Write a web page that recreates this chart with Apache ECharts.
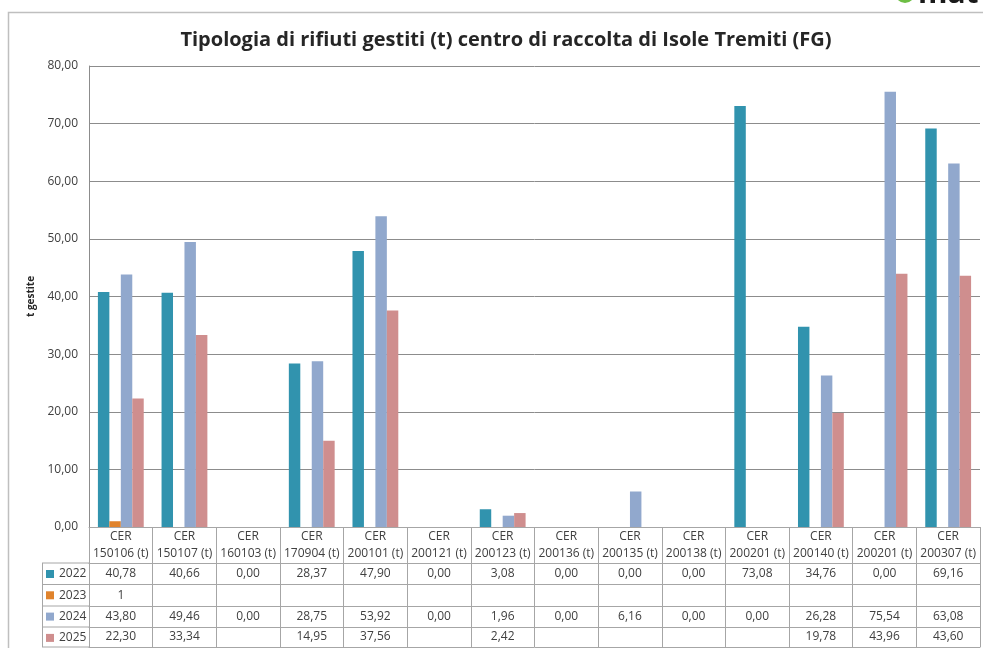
<!DOCTYPE html>
<html>
<head>
<meta charset="utf-8">
<title>Tipologia di rifiuti gestiti - Isole Tremiti</title>
<script src="https://cdn.jsdelivr.net/npm/echarts@6/dist/echarts.min.js"></script>
<style>
  html, body { margin: 0; padding: 0; background: #fff; }
  #chart { width: 983px; height: 648px; }
</style>
</head>
<body>
<div id="chart"></div>
<script>
// codici CER (categorie)
var codes = ['150106', '150107', '160103', '170904', '200101', '200121', '200123',
             '200136', '200135', '200138', '200201', '200140', '200201', '200307'];
var years = ['2022', '2023', '2024', '2025'];
var colors = ['#3193AE', '#E0832C', '#91A8CD', '#CF8E8E'];

// tonnellate gestite per anno (null = cella vuota)
var v2022 = [40.78, 40.66, 0.00, 28.37, 47.90, 0.00, 3.08, 0.00, 0.00, 0.00, 73.08, 34.76, 0.00, 69.16];
var v2023 = [1, null, null, null, null, null, null, null, null, null, null, null, null, null];
var v2024 = [43.80, 49.46, 0.00, 28.75, 53.92, 0.00, 1.96, 0.00, 6.16, 0.00, 0.00, 26.28, 75.54, 63.08];
var v2025 = [22.30, 33.34, null, 14.95, 37.56, null, 2.42, null, null, null, null, 19.78, 43.96, 43.60];
var values = [v2022, v2023, v2024, v2025];

var yTicks = [0, 10, 20, 30, 40, 50, 60, 70, 80];

var FONT = '"Open Sans", "Noto Sans", sans-serif';
var LINE = '#A6A6A6';
var TXT = '#404040';

// posizioni tabella (px)
var plotBottom = 527;
var rowLines = [563, 584.5, 606, 627, 647];

function fmt(v, yi) {
  if (v === null || v === undefined) return '';
  if (years[yi] === '2023') return String(v);
  return v.toFixed(2).replace('.', ',');
}

var chart = echarts.init(document.getElementById('chart'));

var xAxes = [{
  type: 'category',
  data: codes,
  position: 'bottom',
  axisLine: { lineStyle: { color: LINE } },
  axisTick: { show: true, length: rowLines[4] - plotBottom, lineStyle: { color: LINE } },
  axisLabel: {
    interval: 0, margin: 18, verticalAlign: 'middle', lineHeight: 16.6,
    fontFamily: FONT, fontSize: 12, color: TXT,
    formatter: function (v, i) { return 'CER\n' + codes[i] + ' (t)'; }
  }
}];
years.forEach(function (y, yi) {
  xAxes.push({
    type: 'category',
    data: codes,
    position: 'bottom',
    offset: rowLines[yi] - plotBottom,
    axisLine: { lineStyle: { color: LINE } },
    axisTick: { show: false },
    axisLabel: {
      interval: 0, margin: (rowLines[yi + 1] - rowLines[yi]) / 2, verticalAlign: 'middle',
      fontFamily: FONT, fontSize: 12, color: TXT,
      formatter: function (v, i) { return fmt(values[yi][i], yi); }
    }
  });
});
xAxes.push({
  type: 'category',
  data: codes,
  position: 'bottom',
  offset: rowLines[4] - plotBottom,
  axisLine: { lineStyle: { color: LINE } },
  axisTick: { show: false },
  axisLabel: { show: false }
});

var series = years.map(function (y, yi) {
  return {
    name: y,
    type: 'bar',
    xAxisIndex: 0,
    data: values[yi],
    barGap: '0%',
    barCategoryGap: '28%',
    itemStyle: { color: colors[yi] }
  };
});

// bordi della colonna legenda
var graphics = [];
rowLines.forEach(function (yy) {
  graphics.push({ type: 'line', shape: { x1: 42, y1: yy, x2: 89, y2: yy }, style: { stroke: LINE, lineWidth: 1 } });
});
graphics.push({ type: 'line', shape: { x1: 42.5, y1: rowLines[0], x2: 42.5, y2: rowLines[4] }, style: { stroke: LINE, lineWidth: 1 } });
// cornice esterna
graphics.push({ type: 'rect', shape: { x: 8.5, y: 12.5, width: 990, height: 650 }, style: { fill: null, stroke: '#BFBFBF', lineWidth: 1.5 } });
// logo (tagliato in alto a destra)
graphics.push({ type: 'circle', shape: { cx: 905, cy: -7, r: 10 }, style: { fill: '#6DBE45' } });
graphics.push({ type: 'text', x: 918, y: -21, style: { text: 'mat', font: 'bold 30px ' + FONT, fill: '#1A1A1A', verticalAlign: 'top' } });

chart.setOption({
  animation: false,
  backgroundColor: '#fff',
  title: {
    text: 'Tipologia di rifiuti gestiti (t) centro di raccolta di Isole Tremiti (FG)',
    left: 501, top: 25, textAlign: 'center',
    textStyle: { fontFamily: FONT, fontSize: 20, fontWeight: 'bold', color: '#262626' }
  },
  legend: {
    data: years,
    orient: 'vertical',
    left: 46, top: 567,
    padding: 0,
    icon: 'rect', itemWidth: 8, itemHeight: 8, itemGap: 7.3,
    selectedMode: false,
    textStyle: { fontFamily: FONT, fontSize: 12, color: TXT, lineHeight: 14 }
  },
  grid: { left: 89, right: 3, top: 66, bottom: 648 - plotBottom },
  xAxis: xAxes,
  yAxis: {
    type: 'value',
    min: yTicks[0], max: yTicks[yTicks.length - 1], interval: 10,
    name: 't gestite', nameLocation: 'middle', nameGap: 51, nameRotate: 90,
    nameTextStyle: { fontFamily: FONT, fontSize: 10, fontWeight: 'bold', color: '#262626' },
    axisLine: { show: true, lineStyle: { color: '#8C8C8C' } },
    axisTick: { show: false },
    axisLabel: {
      margin: 11, fontFamily: FONT, fontSize: 12, color: TXT,
      formatter: function (v) { return v.toFixed(2).replace('.', ','); }
    },
    splitLine: { lineStyle: { color: '#8C8C8C' } }
  },
  graphic: graphics,
  series: series
});
</script>
</body>
</html>
